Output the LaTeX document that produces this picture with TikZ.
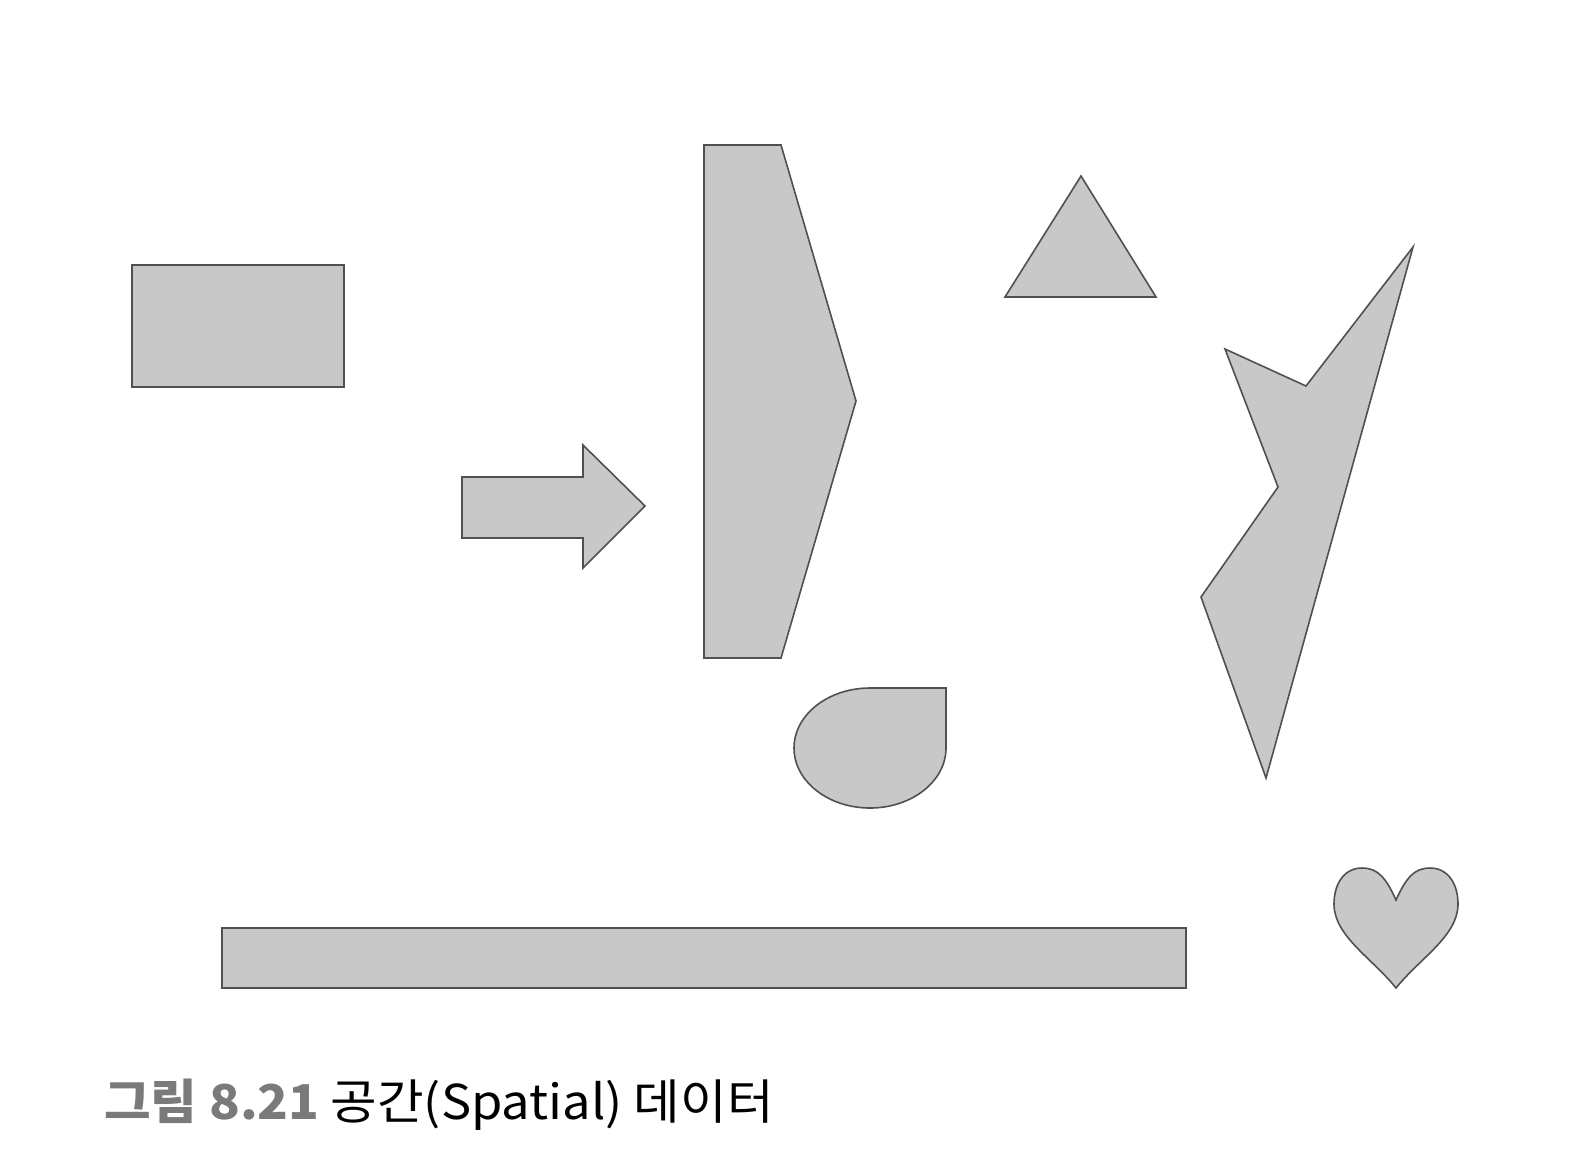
\documentclass[tikz,border=0pt]{standalone}
\usepackage{fontspec}
\usepackage{graphicx}
\newfontfamily\krfont{Noto Sans CJK KR}
\definecolor{shapefill}{HTML}{C8C8C8}
\definecolor{shapeline}{HTML}{505050}
\definecolor{capgray}{HTML}{7A7A7A}
\tikzset{
  spatial/.style={fill=shapefill,draw=shapeline,line width=.8pt,line join=miter},
  caption/.style={anchor=base west,inner sep=0pt,font=\krfont\fontsize{24}{28}\selectfont}
}
\begin{document}
\begin{tikzpicture}[x=.5pt,y=-.5pt]
\useasboundingbox (0,0) rectangle (1594,1164);
% rectangle and long bar
\draw[spatial] (132,265) rectangle (344,387);
\draw[spatial] (222,928) rectangle (1186,988);
% arrow
\draw[spatial] (462,477) -- (583,477) -- (583,445) -- (645,506)
  -- (583,568) -- (583,538) -- (462,538) -- cycle;
% tall pentagon
\draw[spatial] (704,145) -- (781,145) -- (856,401) -- (781,658)
  -- (704,658) -- cycle;
% triangle
\draw[spatial] (1081,176) -- (1156,297) -- (1005,297) -- cycle;
% star-like polygon
\draw[spatial] (1413,247) -- (1266,778) -- (1201,597) -- (1278,487)
  -- (1225,349) -- (1306,386) -- cycle;
% teardrop
\draw[spatial] (946,688) -- (946,748)
  arc[start angle=0,end angle=270,x radius=76,y radius=60] -- cycle;
% heart
\draw[spatial] (1396,900)
  .. controls (1386,878) and (1378,868) .. (1362,868)
  .. controls (1344,868) and (1334,884) .. (1334,904)
  .. controls (1334,936) and (1372,958) .. (1396,988)
  .. controls (1420,958) and (1458,936) .. (1458,904)
  .. controls (1458,884) and (1448,868) .. (1430,868)
  .. controls (1414,868) and (1406,878) .. (1396,900) -- cycle;
\node[caption] (cap) at (104,1119)
  {\scalebox{1.055}[1]{\textcolor{capgray}{\bfseries 그림 8.21} 공간(Spatial) 데이터}};
\end{tikzpicture}
\end{document}
